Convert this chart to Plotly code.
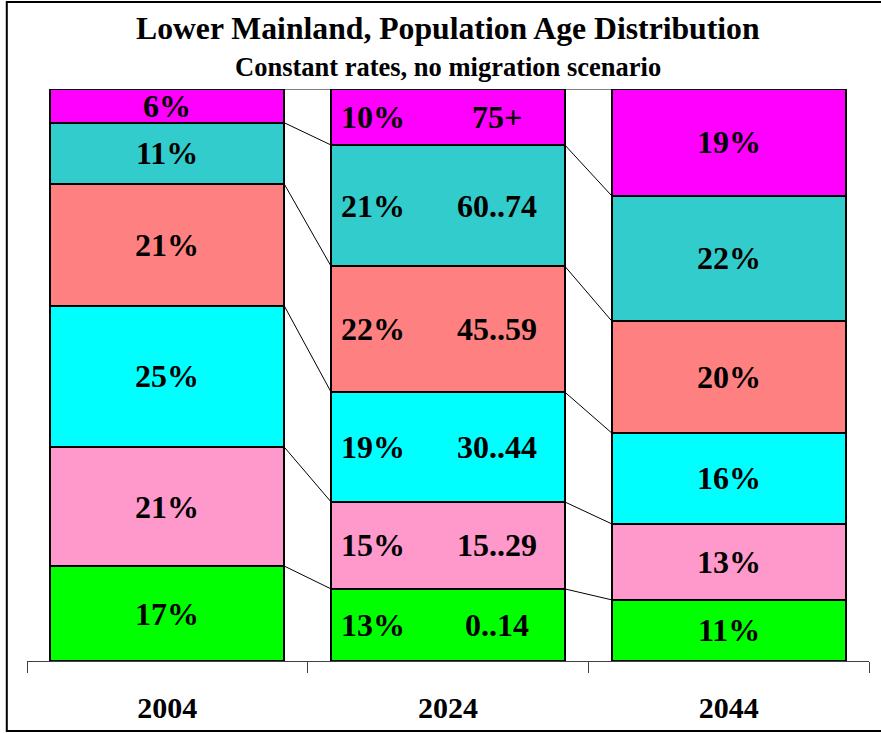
import plotly.graph_objects as go

years = ["2004", "2024", "2044"]
age_groups = ["0..14", "15..29", "30..44", "45..59", "60..74", "75+"]
share_0_14 = [16.6, 12.6, 10.7]
share_15_29 = [20.8, 15.2, 13.3]
share_30_44 = [24.7, 19.2, 15.9]
share_45_59 = [21.3, 22.0, 19.6]
share_60_74 = [10.7, 21.2, 21.9]
share_75p = [5.9, 9.8, 18.7]
colors = ["#00FF00", "#FF99CC", "#00FFFF", "#FF8080", "#33CCCC", "#FF00FF"]

series = [share_0_14, share_15_29, share_30_44, share_45_59, share_60_74, share_75p]
totals = [sum(s[i] for s in series) for i in range(len(years))]
norm = [[s[i] / totals[i] * 100 for i in range(len(years))] for s in series]

x = list(range(len(years)))
bw = 0.833
FONT = "Liberation Serif"

fig = go.Figure()
for name, vals, col in zip(age_groups, norm, colors):
    fig.add_trace(go.Bar(
        x=x, y=vals, name=name, width=bw,
        marker=dict(color=col, line=dict(color="black", width=2)),
        hoverinfo="skip", showlegend=False,
    ))

# cumulative tops
cum = []
run = [0.0] * len(years)
for vals in norm:
    bottoms = run[:]
    run = [run[i] + vals[i] for i in range(len(years))]
    cum.append((bottoms, run[:]))

# series lines
for bottoms, tops in cum:
    for i in range(len(years) - 1):
        fig.add_trace(go.Scatter(
            x=[x[i] + bw / 2, x[i + 1] - bw / 2], y=[tops[i], tops[i + 1]],
            mode="lines", line=dict(color="black", width=1),
            hoverinfo="skip", showlegend=False,
        ))

annotations = []
lab_font = dict(family=FONT, size=32, color="black", weight="bold")
for k, (bottoms, tops) in enumerate(cum):
    for i in range(len(years)):
        mid = (bottoms[i] + tops[i]) / 2
        pct = f"{round(series[k][i])}%"
        if i == 1:
            annotations.append(dict(x=x[i] - 0.267, y=mid, text=pct, showarrow=False,
                                    xref="x", yref="y", font=lab_font))
            annotations.append(dict(x=x[i] + 0.174, y=mid, text=age_groups[k], showarrow=False,
                                    xref="x", yref="y", font=lab_font))
        else:
            annotations.append(dict(x=x[i], y=mid, text=pct, showarrow=False,
                                    xref="x", yref="y", font=lab_font))

annotations.append(dict(x=0.5, y=1.1066, xref="paper", yref="paper", showarrow=False,
                        text="Lower Mainland, Population Age Distribution", yanchor="middle",
                        font=dict(family=FONT, size=31.7, color="black", weight="bold")))
annotations.append(dict(x=0.5, y=1.0385, xref="paper", yref="paper", showarrow=False,
                        text="Constant rates, no migration scenario", yanchor="middle",
                        font=dict(family=FONT, size=26.5, color="black", weight="bold")))

fig.update_layout(
    width=881, height=733, autosize=False,
    margin=dict(l=27, r=12, t=89, b=72),
    paper_bgcolor="white", plot_bgcolor="white",
    barmode="stack", bargap=0,
    annotations=annotations,
    shapes=[dict(type="rect", xref="paper", yref="paper",
                 x0=-0.024, x1=1.03, y0=-0.1224, y1=1.152,
                 line=dict(color="black", width=2), fillcolor="rgba(0,0,0,0)", layer="below")],
    xaxis=dict(range=[-0.5, 2.5], tickvals=x, ticktext=years, showgrid=False, zeroline=False,
               showline=True, linecolor="#404040", linewidth=1, ticks="",
               ticklabelstandoff=20, automargin=False,
               tickfont=dict(family=FONT, size=30, color="black", weight="bold"),
               minor=dict(tickvals=[-0.5, 0.5, 1.5, 2.5], ticks="outside", ticklen=11,
                          tickcolor="#404040", tickwidth=1, showgrid=False)),
    yaxis=dict(range=[0, 100], visible=False, showgrid=False, zeroline=False, automargin=False),
)

fig.write_html("out.html",
               config={"responsive": False, "displayModeBar": False},
               post_script="document.body.style.margin='0';document.body.style.overflow='hidden';")
